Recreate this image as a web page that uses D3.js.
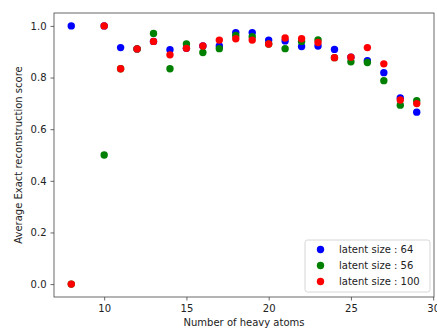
<!DOCTYPE html>
<html>
<head>
<meta charset="utf-8">
<script src="https://cdn.jsdelivr.net/npm/d3@7"></script>
<style>
  body { margin: 0; background: #fff; }
  svg text { font-family: "DejaVu Sans", sans-serif; fill: #222; }
</style>
</head>
<body>
<div id="chart"></div>
<script>
// heavy atom counts
const atoms = [8, 10, 11, 12, 13, 14, 15, 16, 17, 18, 19, 20, 21, 22, 23, 24, 25, 26, 27, 28, 29];

// average exact reconstruction score per latent size
const latent64 = [1.0, 1.0, 0.916, 0.911, 0.94, 0.908, 0.913, 0.922, 0.922, 0.974, 0.974, 0.945, 0.942, 0.920, 0.922, 0.909, 0.879, 0.865, 0.819, 0.721, 0.666];
const latent56 = [0.0, 0.5, 0.834, 0.911, 0.971, 0.834, 0.930, 0.897, 0.912, 0.963, 0.958, 0.93, 0.912, 0.94, 0.946, 0.877, 0.861, 0.858, 0.788, 0.693, 0.710];
const latent100 = [0.0, 1.0, 0.834, 0.911, 0.94, 0.888, 0.913, 0.922, 0.945, 0.950, 0.945, 0.930, 0.953, 0.950, 0.936, 0.877, 0.879, 0.916, 0.853, 0.713, 0.699];

const seriesNames = ['latent size : 64', 'latent size : 56', 'latent size : 100'];
const seriesColors = ['#0000ff', '#008000', '#ff0000'];
const xTicks = [10, 15, 20, 25, 30];
const yTicks = [0.0, 0.2, 0.4, 0.6, 0.8, 1.0];

const W = 437, H = 331;
const margin = { top: 13, right: 3, bottom: 34, left: 54 };
const width = W - margin.left - margin.right;
const height = H - margin.top - margin.bottom;

const svg = d3.select('#chart').append('svg')
  .attr('width', W)
  .attr('height', H);

const g = svg.append('g')
  .attr('transform', `translate(${margin.left},${margin.top})`);

const x = d3.scaleLinear().domain([6.95, 30.05]).range([0, width]);
const y = d3.scaleLinear().domain([-0.05, 1.05]).range([height, 0]);

const xAxis = g.append('g')
  .attr('transform', `translate(0,${height})`)
  .call(d3.axisBottom(x).tickValues(xTicks).tickFormat(d3.format('d')).tickSize(3.5).tickPadding(4));
const yAxis = g.append('g')
  .call(d3.axisLeft(y).tickValues(yTicks).tickFormat(d3.format('.1f')).tickSize(3.5).tickPadding(4));

[xAxis, yAxis].forEach(a => {
  a.select('.domain').remove();
  a.selectAll('.tick line').attr('stroke', '#444').attr('stroke-width', 0.8);
  a.selectAll('.tick text').attr('font-size', '10px').attr('fill', '#333');
});

// frame
g.append('rect')
  .attr('width', width)
  .attr('height', height)
  .attr('fill', 'none')
  .attr('stroke', '#444')
  .attr('stroke-width', 0.8);

const allSeries = [latent64, latent56, latent100];
allSeries.forEach((vals, i) => {
  g.append('g').selectAll('circle')
    .data(atoms.map((a, j) => ({ a, v: vals[j] })))
    .enter()
    .append('circle')
    .attr('cx', d => x(d.a))
    .attr('cy', d => y(d.v))
    .attr('r', 3.7)
    .attr('fill', seriesColors[i]);
});

// axis labels
svg.append('text')
  .attr('x', margin.left + width / 2)
  .attr('y', 326)
  .attr('text-anchor', 'middle')
  .attr('font-size', '10px')
  .text('Number of heavy atoms');

svg.append('text')
  .attr('transform', `translate(22,${margin.top + height / 2}) rotate(-90)`)
  .attr('text-anchor', 'middle')
  .attr('font-size', '10px')
  .text('Average Exact reconstruction score');

// legend
const legend = g.append('g')
  .attr('transform', `translate(${width - 129},${height - 57})`);
legend.append('rect')
  .attr('width', 125)
  .attr('height', 52)
  .attr('rx', 2.5)
  .attr('fill', '#fff')
  .attr('fill-opacity', 0.8)
  .attr('stroke', '#ccc')
  .attr('stroke-width', 0.8);
seriesNames.forEach((name, i) => {
  legend.append('circle')
    .attr('cx', 15.5)
    .attr('cy', 9.5 + i * 16)
    .attr('r', 3.7)
    .attr('fill', seriesColors[i]);
  legend.append('text')
    .attr('x', 34)
    .attr('y', 9.5 + i * 16)
    .attr('dy', '0.35em')
    .attr('font-size', '10px')
    .text(name);
});
</script>
</body>
</html>
